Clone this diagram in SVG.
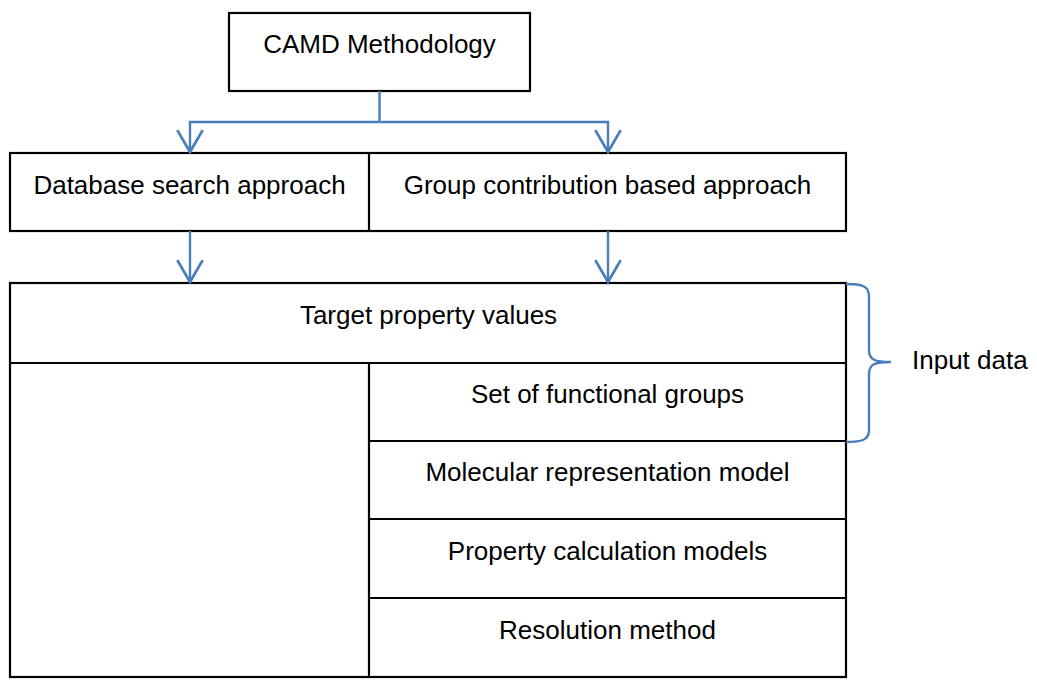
<svg xmlns="http://www.w3.org/2000/svg" width="1037" height="680" viewBox="0 0 1037 680">
  <style>
    .box { fill: #ffffff; stroke: #000000; stroke-width: 2.2; }
    .ln { fill: none; stroke: #000000; stroke-width: 2.2; }
    .conn { fill: none; stroke: #4A7EBB; stroke-width: 2.4; }
    .lbl { font-family: "Liberation Sans", Arial, sans-serif; font-size: 26px; fill: #000000; text-anchor: middle; }
  </style>
  <defs>
    <marker id="vhead" markerUnits="userSpaceOnUse" markerWidth="30" markerHeight="30" viewBox="-22 -12 26 24" refX="0" refY="0" orient="auto" overflow="visible">
      <path d="M-19,-11 L0,0 L-19,11" fill="none" stroke="#4A7EBB" stroke-width="2.4"/>
    </marker>
  </defs>
  <rect width="1037" height="680" fill="#ffffff"/>

  <g id="camd">
    <rect class="box" x="229" y="13" width="301" height="78"/>
    <text class="lbl" x="379.5" y="53">CAMD Methodology</text>
  </g>

  <g id="approaches">
    <rect class="box" x="10" y="153" width="836" height="78"/>
    <line class="ln" x1="369" y1="153" x2="369" y2="231"/>
  </g>
  <g id="database">
    <text class="lbl" x="189.5" y="194">Database search approach</text>
  </g>
  <g id="groupcontrib">
    <text class="lbl" x="607.5" y="194">Group contribution based approach</text>
  </g>

  <g id="mainbox">
    <rect class="box" x="10" y="283" width="836" height="394"/>
    <line class="ln" x1="10" y1="363" x2="846" y2="363"/>
    <line class="ln" x1="369" y1="363" x2="369" y2="677"/>
    <line class="ln" x1="369" y1="441" x2="846" y2="441"/>
    <line class="ln" x1="369" y1="519" x2="846" y2="519"/>
    <line class="ln" x1="369" y1="598" x2="846" y2="598"/>
  </g>
  <g id="target"><text class="lbl" x="428.5" y="324">Target property values</text></g>
  <g id="functional"><text class="lbl" x="607.5" y="403">Set of functional groups</text></g>
  <g id="molecular"><text class="lbl" x="607.5" y="481">Molecular representation model</text></g>
  <g id="property"><text class="lbl" x="607.5" y="560">Property calculation models</text></g>
  <g id="resolution"><text class="lbl" x="607.5" y="639">Resolution method</text></g>

  <g id="inputdata">
    <path class="conn" d="M846,284 C862,284 869,286 869,296 L869,350 C869,360 875,362 891,362 C875,362 869,364 869,374 L869,430 C869,440 862,442 846,442"/>
    <text x="912" y="369" font-family="Liberation Sans, Arial, sans-serif" font-size="26" fill="#000000">Input data</text>
  </g>

  <g id="connectors">
    <path class="conn" d="M379.5,91 L379.5,122"/>
    <path class="conn" d="M379.5,122 L190,122 L190,152" marker-end="url(#vhead)"/>
    <path class="conn" d="M379.5,122 L608,122 L608,152" marker-end="url(#vhead)"/>
    <path class="conn" d="M190,231 L190,282" marker-end="url(#vhead)"/>
    <path class="conn" d="M608,231 L608,282" marker-end="url(#vhead)"/>
  </g>
</svg>
